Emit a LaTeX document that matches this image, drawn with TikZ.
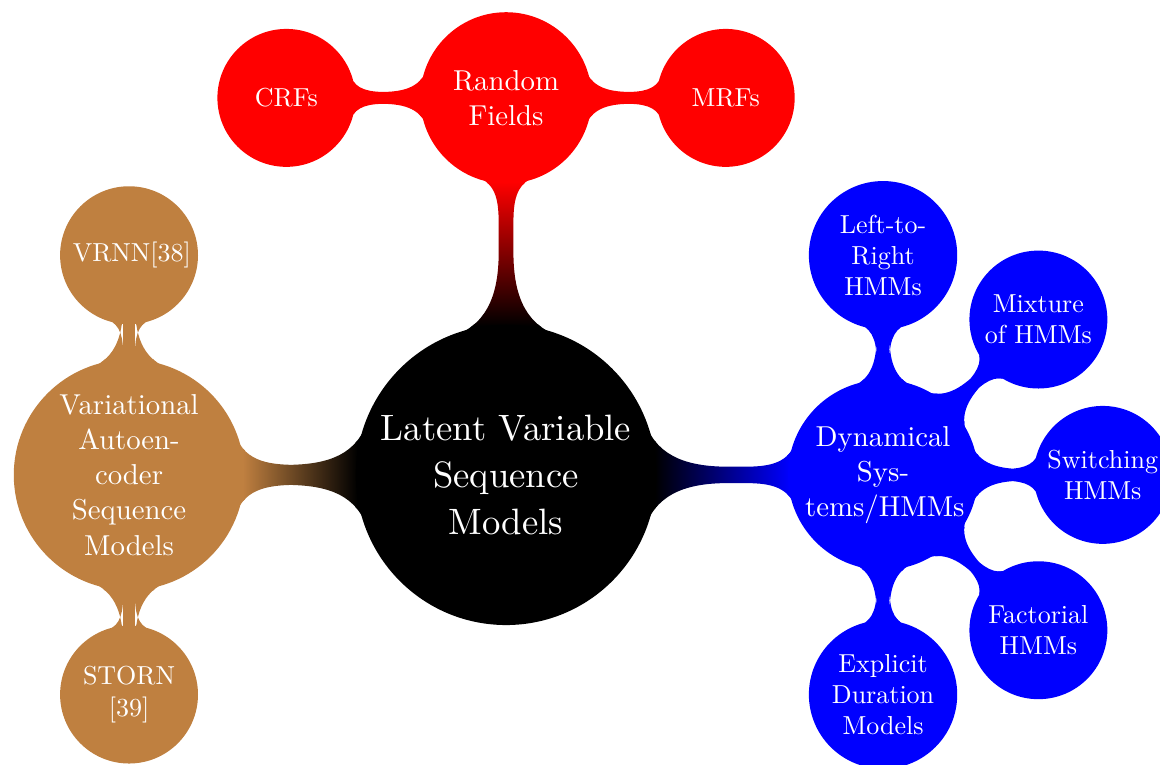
\documentclass[tikz,border=0pt]{standalone}
\usepackage{fontspec}
\setmainfont{lmroman10-regular.otf}
\usepackage{tikz}
\usetikzlibrary{mindmap, backgrounds}

\begin{document}
\begin{tikzpicture}
        [
          mindmap,
          rootc/.style={concept, concept color=#1, text=white, align=center,
            minimum size=4.1cm, text width=3.55cm, inner sep=1pt,
            font=\fontsize{14.4}{18.5}\selectfont},
          topicc/.style={concept, concept color=#1, text=white, align=center,
            minimum size=2cm, text width=2.15cm, inner sep=0.5pt,
            font=\fontsize{11.3}{13.8}\selectfont},
          leafc/.style={concept, concept color=#1, text=white, align=center,
            minimum size=1.86cm, text width=1.55cm, inner sep=1pt,
            font=\fontsize{10.2}{12.2}\selectfont},
          link/.style 2 args={circle connection bar switch color=from (#1) to (#2)}
        ]
        \useasboundingbox (-6.98,-4.0) rectangle (9.02,6.55);
        % root
        \node [rootc=black] (root) at (0,0) {Latent Variable\\Sequence\\Models};
        % random fields
        \node [topicc=red] (rf) at (90:5.2) {Random\\Fields};
        \node [leafc=red] (crf) at ([shift={(180:3.03)}]rf) {CRFs};
        \node [leafc=red] (mrf) at ([shift={(0:3.03)}]rf) {MRFs};
        % dynamical systems / hmms
        \node [topicc=blue] (dyn) at (0:5.2) {Dynamical\\Sys-\\tems/HMMs};
        \node [leafc=blue] (lr) at ([shift={(90:3.03)}]dyn) {Left-to-\\Right\\HMMs};
        \node [leafc=blue] (mix) at ([shift={(45:3.03)}]dyn) {Mixture\\of HMMs};
        \node [leafc=blue] (sw) at ([shift={(0:3.03)}]dyn) {Switching\\HMMs};
        \node [leafc=blue] (fac) at ([shift={(-45:3.03)}]dyn) {Factorial\\HMMs};
        \node [leafc=blue] (edm) at ([shift={(-90:3.03)}]dyn) {Explicit\\Duration\\Models};
        % vae sequence models
        \node [topicc=brown] (vae) at (180:5.2) {Variational\\Autoen-\\coder\\Sequence\\Models};
        \node [leafc=brown] (vrnn) at ([shift={(90:3.03)}]vae) {VRNN[38]};
        \node [leafc=brown] (storn) at ([shift={(-90:3.03)}]vae) {STORN\\{[39]}};
        % connections
        \begin{scope}[on background layer]
          \foreach \src/\dst/\ca/\cb in {root/rf/black/red, root/dyn/black/blue,
              root/vae/black/brown, rf/crf/red/red, rf/mrf/red/red,
              dyn/lr/blue/blue, dyn/mix/blue/blue, dyn/sw/blue/blue,
              dyn/fac/blue/blue, dyn/edm/blue/blue,
              vae/vrnn/brown/brown, vae/storn/brown/brown} {
            \path (\src) to [link={\ca}{\cb}] (\dst);
          }
        \end{scope}
\end{tikzpicture}
\end{document}
